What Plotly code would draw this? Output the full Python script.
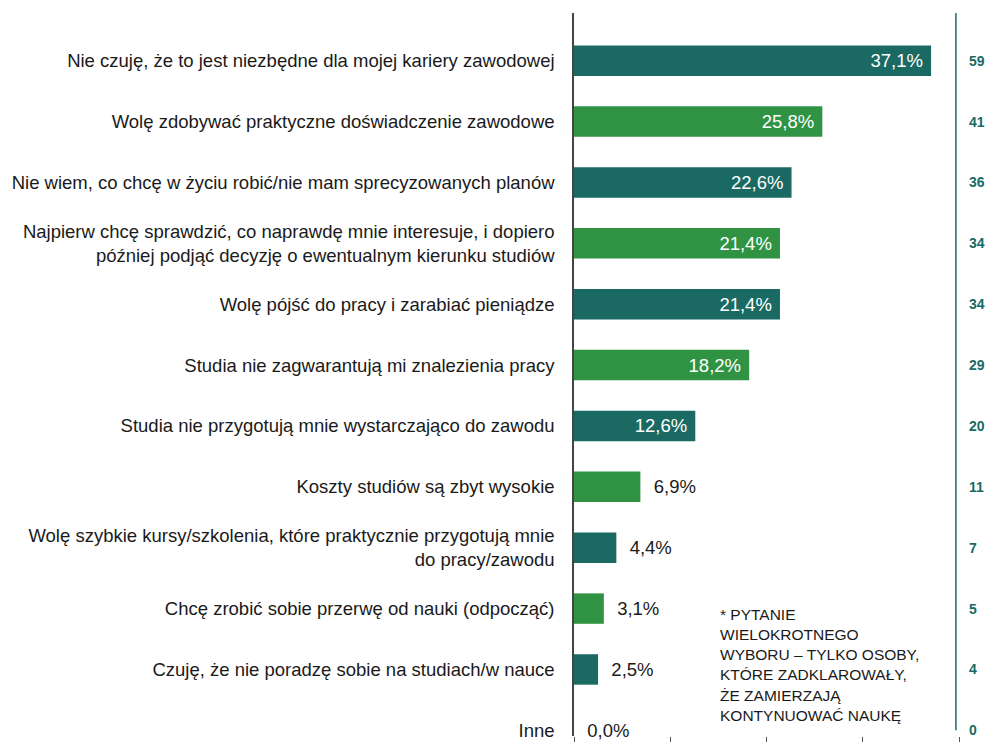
import plotly.graph_objects as go

categories = [
    "Nie czuję, że to jest niezbędne dla mojej kariery zawodowej",
    "Wolę zdobywać praktyczne doświadczenie zawodowe",
    "Nie wiem, co chcę w życiu robić/nie mam sprecyzowanych planów",
    "Najpierw chcę sprawdzić, co naprawdę mnie interesuje, i dopiero<br>później podjąć decyzję o ewentualnym kierunku studiów",
    "Wolę pójść do pracy i zarabiać pieniądze",
    "Studia nie zagwarantują mi znalezienia pracy",
    "Studia nie przygotują mnie wystarczająco do zawodu",
    "Koszty studiów są zbyt wysokie",
    "Wolę szybkie kursy/szkolenia, które praktycznie przygotują mnie<br>do pracy/zawodu",
    "Chcę zrobić sobie przerwę od nauki (odpocząć)",
    "Czuję, że nie poradzę sobie na studiach/w nauce",
    "Inne",
]
percent = [37.1, 25.8, 22.6, 21.4, 21.4, 18.2, 12.6, 6.9, 4.4, 3.1, 2.5, 0.0]
counts = [59, 41, 36, 34, 34, 29, 20, 11, 7, 5, 4, 0]
note = ("* PYTANIE<br>WIELOKROTNEGO<br>WYBORU – TYLKO OSOBY,<br>"
        "KTÓRE ZADKLAROWAŁY,<br>ŻE ZAMIERZAJĄ<br>KONTYNUOWAĆ NAUKĘ")

TEAL = "#1a6a63"
GREEN = "#2f9343"
FONT = "Liberation Sans, Arial, sans-serif"

colors = [TEAL if i % 2 == 0 else GREEN for i in range(len(categories))]
inside = [v >= 10 for v in percent]
labels = [f"{v:.1f}%".replace(".", ",") for v in percent]
texts = [t + "\u00a0" if ins else "\u00a0\u00a0" + t for t, ins in zip(labels, inside)]

fig = go.Figure(
    go.Bar(
        x=percent,
        y=categories,
        orientation="h",
        marker=dict(color=colors, line=dict(width=0)),
        width=0.5,
        text=texts,
        textposition=["inside" if ins else "outside" for ins in inside],
        insidetextanchor="end",
        insidetextfont=dict(color="white", size=18.5, family=FONT),
        outsidetextfont=dict(color="#1a1a1a", size=18.5, family=FONT),
        cliponaxis=False,
        hoverinfo="skip",
    )
)

for cat, n in zip(categories, counts):
    fig.add_annotation(
        x=1.02, xref="paper", y=cat, yref="y",
        text=f"<b>{n}</b>", showarrow=False, xanchor="left",
        font=dict(color=TEAL, size=14, family=FONT),
    )

fig.add_annotation(
    x=0.374, xref="paper", y=0.183, yref="paper",
    text=note, showarrow=False, xanchor="left", yanchor="top", align="left",
    font=dict(color="#1a1a1a", size=15.5, family=FONT),
)

fig.add_shape(
    type="line", xref="paper", yref="paper",
    x0=0.992, x1=0.992, y0=0.008, y1=1,
    line=dict(color=TEAL, width=1.5),
)

fig.update_layout(
    width=988, height=746,
    margin=dict(l=574, r=29, t=13, b=5),
    plot_bgcolor="white", paper_bgcolor="white",
    showlegend=False,
    font=dict(family=FONT, size=18.5, color="#1a1a1a"),
)
fig.update_xaxes(
    range=[0, 40], tickvals=[0, 10, 20, 30, 40], showticklabels=False,
    ticks="outside", ticklen=5, tickcolor="#555", showgrid=False,
    zeroline=False, showline=False,
)
fig.update_yaxes(
    range=[11.093, -0.783], showline=True, linecolor="#444", linewidth=1.5,
    ticks="", ticklabelstandoff=14, showgrid=False,
    tickfont=dict(size=18.5, family=FONT, color="#1a1a1a"),
)

fig.write_html(
    "out.html",
    config={"displayModeBar": False},
    post_script="document.body.style.margin='0';",
)
